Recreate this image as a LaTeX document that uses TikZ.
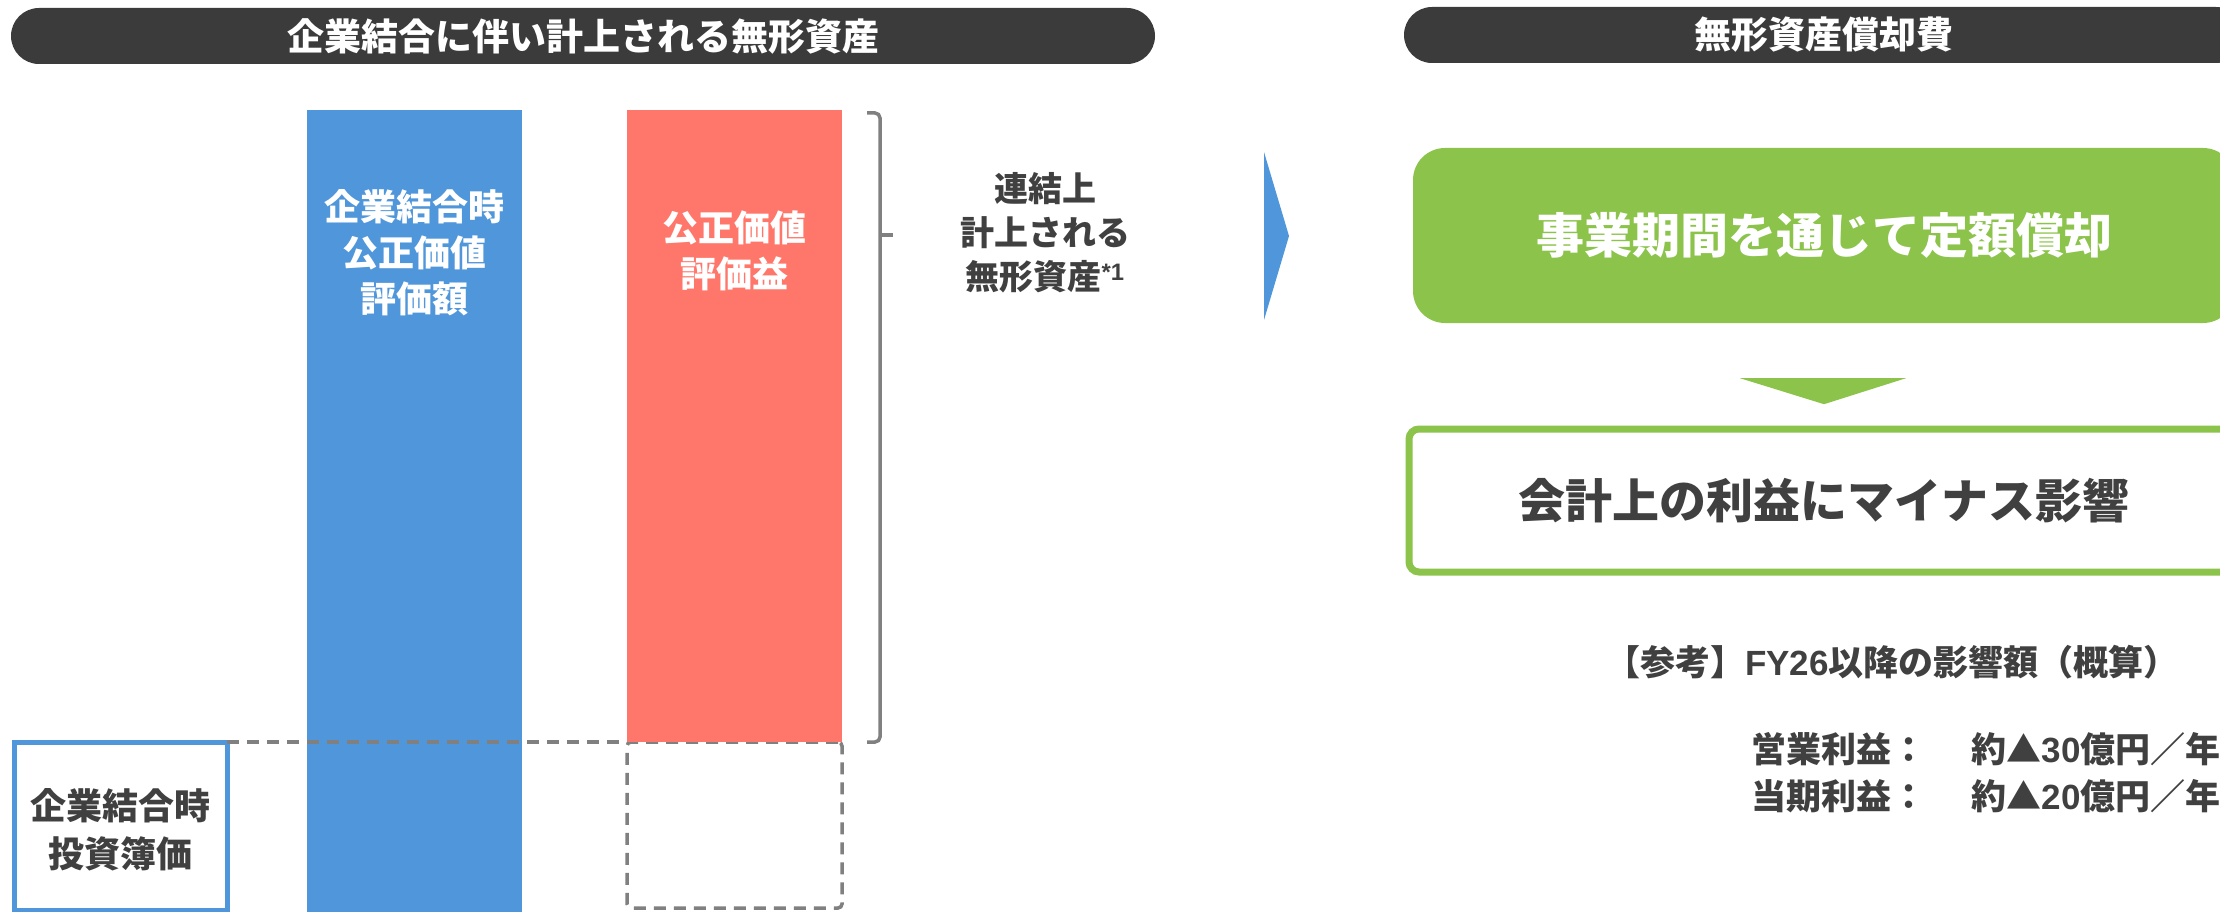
\documentclass[tikz,border=0pt]{standalone}
\usepackage{fontspec}
\setmainfont{Noto Sans CJK JP}
\newfontfamily\latinfont{Liberation Sans}[UprightFont={* Bold}, BoldFont={* Bold}]

\definecolor{hdrgray}{HTML}{3B3B3B}
\definecolor{fvblue}{HTML}{5096DA}
\definecolor{gainred}{HTML}{FF776B}
\definecolor{amortgreen}{HTML}{8CC34B}
\definecolor{linegray}{HTML}{808080}
\definecolor{txtgray}{HTML}{404040}

\begin{document}
\begin{tikzpicture}[x=1pt,y=-1pt]
\tikzstyle{header}=[fill=hdrgray, text=white, rounded corners=28pt, minimum height=56pt, inner sep=0pt, font=\bfseries\fontsize{37}{44}\selectfont]
\tikzstyle{bar}=[inner sep=0pt, outer sep=0pt, minimum width=215pt]
\tikzstyle{bartext}=[text=white, align=center, font=\bfseries\fontsize{36}{46}\selectfont]
\tikzstyle{darktext}=[text=txtgray, align=center, font=\bfseries\fontsize{35}{46}\selectfont]
\tikzstyle{dashbox}=[draw=linegray, line width=3.5pt, dash pattern=on 12pt off 8pt]
\tikzstyle{bracket}=[draw=linegray, line width=3.5pt, rounded corners=5pt]

\useasboundingbox (0,0) rectangle (2220,912);

% headers
\draw (583,36) node[header, minimum width=1144pt] (hdrleft) {企業結合に伴い計上される無形資産};
\draw (1824,35) node[header, minimum width=840pt] (hdrright) {無形資産償却費};

% bars
\draw (414.5,512) node[bar, fill=fvblue, minimum height=804pt] (fvbar) {};
\draw (734.5,825) node[bar, dashbox, minimum height=166pt, rounded corners=4pt] (bookbox) {};
\draw (734.5,426) node[bar, fill=gainred, minimum height=632pt] (gainbar) {};
\draw (120.5,826) node[draw=fvblue, line width=5pt, outer sep=0pt, fill=white, minimum width=213pt, minimum height=168pt] (bookval) {};

\draw (414.5,253) node[bartext] (fvtext) {企業結合時\\公正価値\\評価額};
\draw (734.5,251) node[bartext] (gaintext) {公正価値\\評価益};
\draw (120.5,830) node[darktext, font=\bfseries\fontsize{36}{48}\selectfont] (bookvaltext) {企業結合時\\投資簿価};

\draw[dashbox] (bookval.north east) -- (bookbox.north west);

% bracket for the intangible asset
\draw[bracket] (867,113) -| (880,742) -- (867,742);
\draw[bracket] (880,235) -- (893,235);
\draw (1045,233) node[darktext, font=\bfseries\fontsize{34}{44}\selectfont] (bracetext) {連結上\\計上される\\無形資産\textsuperscript{\latinfont *1}};

\fill[fvblue] (1264,152) -- (1289,236) -- (1264,320) -- cycle;

% amortization
\draw (1824,235.5) node[fill=amortgreen, rounded corners=32pt, minimum width=822pt, minimum height=175pt, text=white, font=\bfseries\fontsize{48}{56}\selectfont] (amort) {事業期間を通じて定額償却};
\fill[amortgreen] ([xshift=-84pt,yshift=-55pt]amort.south) -- ([xshift=82pt,yshift=-55pt]amort.south) -- ([yshift=-81pt]amort.south) -- cycle;
\draw (1824,500.5) node[draw=amortgreen, line width=7pt, rounded corners=10pt, fill=white, minimum width=830pt, minimum height=143pt, text=txtgray, font=\bfseries\fontsize{47}{56}\selectfont] (impact) {会計上の利益にマイナス影響};

\draw (1605,662) node[darktext, anchor=west, inner sep=0pt] (refnote) {【参考】{\latinfont FY26}以降の影響額（概算）};
\draw (1751,773) node[darktext, anchor=west, align=left, inner sep=0pt, font=\bfseries\fontsize{35}{47}\selectfont] (values) {営業利益：\hspace{1.3em}約▲{\latinfont 30}億円／年\\当期利益：\hspace{1.3em}約▲{\latinfont 20}億円／年};
\end{tikzpicture}
\end{document}
